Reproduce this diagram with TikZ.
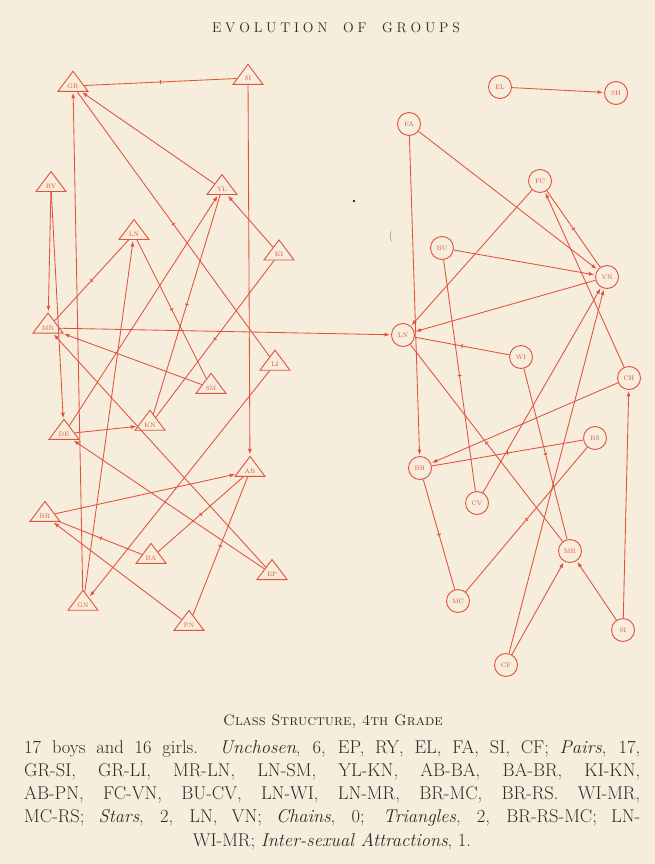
\documentclass[tikz,border=0pt]{standalone}
\usetikzlibrary{shapes.geometric,arrows.meta,decorations.markings}
\definecolor{ink}{RGB}{224,82,60}
\definecolor{paper}{RGB}{246,237,221}
\definecolor{txt}{RGB}{45,42,40}
\begin{document}
\begin{tikzpicture}[x=1pt,y=-1pt,
  boy/.style={shape=isosceles triangle, shape border rotate=90, isosceles triangle stretches,
    minimum width=30pt, minimum height=20pt, inner sep=0pt, draw=ink, line width=0.9pt,
    font=\fontsize{6.5}{6.5}\selectfont, text=ink},
  girl/.style={circle, draw=ink, line width=0.9pt, minimum size=23pt, inner sep=0pt,
    font=\fontsize{6.5}{6.5}\selectfont, text=ink},
  choice/.style={draw=ink, line width=0.85pt, -{Latex[length=5.5pt,width=4pt]}, shorten >=1pt},
  mutual/.style={draw=ink, line width=0.85pt, postaction={decorate},
    decoration={markings, mark=at position 0.5 with {\draw[ink,line width=1.1pt] (0pt,-1.8pt) -- (0pt,1.8pt);}}},
  para/.style={anchor=base west, font=\fontsize{18.5}{20}\selectfont, text=txt, inner sep=0pt},
]
\fill[paper] (0,0) rectangle (655,864);
\useasboundingbox (0,0) rectangle (655,864);

% title
\node[font=\fontsize{14}{14}\selectfont, text=txt, inner sep=0pt] (title) at (336,28)
  {\makebox[248pt][s]{E\hfill V\hfill O\hfill L\hfill U\hfill T\hfill I\hfill O\hfill N\hskip 0pt plus 4fill O\hfill F\hskip 0pt plus 4fill G\hfill R\hfill O\hfill U\hfill P\hfill S}};

% boys
\node[boy] (bGR) at (73,86) {GR};
\node[boy] (bSI) at (248,78) {SI};
\node[boy] (bRY) at (51,186) {RY};
\node[boy] (bLN) at (134,234) {LN};
\node[boy] (bYL) at (222,189) {YL};
\node[boy] (bKI) at (279,254) {KI};
\node[boy] (bMR) at (48,328) {MR};
\node[boy] (bLI) at (275,364) {LI};
\node[boy] (bSM) at (211,388) {SM};
\node[boy] (bKN) at (150,425) {KN};
\node[boy] (bDE) at (64,434) {DE};
\node[boy] (bAB) at (250,471) {AB};
\node[boy] (bBR) at (45,516) {BR};
\node[boy] (bBA) at (151,558) {BA};
\node[boy] (bEP) at (272,574) {EP};
\node[boy] (bGN) at (83,605) {GN};
\node[boy] (bPN) at (189,625) {PN};

% girls
\node[girl] (gEL) at (500,87) {EL};
\node[girl] (gSH) at (616,93) {SH};
\node[girl] (gFA) at (409,124) {FA};
\node[girl] (gFC) at (540,181) {FC};
\node[girl] (gBU) at (442,248) {BU};
\node[girl] (gVN) at (607,277) {VN};
\node[girl] (gLN) at (403,335) {LN};
\node[girl] (gWI) at (521,357) {WI};
\node[girl] (gCH) at (629,378) {CH};
\node[girl] (gRS) at (595,438) {RS};
\node[girl] (gBR) at (420,468) {BR};
\node[girl] (gCV) at (477,503) {CV};
\node[girl] (gMR) at (570,551) {MR};
\node[girl] (gMC) at (458,601) {MC};
\node[girl] (gSI) at (623,630) {SI};
\node[girl] (gCF) at (506,665) {CF};

% boys: mutual choices
\draw[mutual] (bGR) -- (bSI);
\draw[mutual] (bGR) -- (bLI);
\draw[mutual] (bMR) -- (bLN);
\draw[mutual] (bLN) -- (bSM);
\draw[mutual] (bYL) -- (bKN);
\draw[mutual] (bAB) -- (bBA);
\draw[mutual] (bBA) -- (bBR);
\draw[mutual] (bKI) -- (bKN);
\draw[mutual] (bAB) -- (bPN);
% boys: one-way choices
\draw[choice] (bYL) -- (bGR);
\draw[choice] (bGN) -- (bGR);
\draw[choice] (bSI) -- (bAB);
\draw[choice] (bRY) -- (bMR);
\draw[choice] (bRY) -- (bDE);
\draw[choice] (bKI) -- (bYL);
\draw[choice] (bGN) -- (bLN);
\draw[choice] (bDE) -- (bYL);
\draw[choice] (bSM) -- (bMR);
\draw[choice] (bEP) -- (bMR);
\draw[choice] (bEP) -- (bDE);
\draw[choice] (bDE) -- (bKN);
\draw[choice] (bLI) -- (bGN);
\draw[choice] (bBR) -- (bAB);
\draw[choice] (bPN) -- (bBR);
\draw[choice] (bMR) -- (gLN);

% girls: mutual choices
\draw[mutual] (gFC) -- (gVN);
\draw[mutual] (gBU) -- (gCV);
\draw[mutual] (gLN) -- (gWI);
\draw[mutual] (gLN) -- (gMR);
\draw[mutual] (gBR) -- (gMC);
\draw[mutual] (gBR) -- (gRS);
\draw[mutual] (gWI) -- (gMR);
\draw[mutual] (gMC) -- (gRS);
% girls: one-way choices
\draw[choice] (gEL) -- (gSH);
\draw[choice] (gFA) -- (gBR);
\draw[choice] (gFA) -- (gVN);
\draw[choice] (gBU) -- (gVN);
\draw[choice] (gCH) -- (gFC);
\draw[choice] (gVN) -- (gLN);
\draw[choice] (gFC) -- (gLN);
\draw[choice] (gCV) -- (gVN);
\draw[choice] (gCF) -- (gVN);
\draw[choice] (gCF) -- (gMR);
\draw[choice] (gSI) -- (gMR);
\draw[choice] (gSI) -- (gCH);
\draw[choice] (gCH) -- (gBR);

% stray marks of the print
\fill[txt] (354,201) circle (1.3pt);
\node[text=gray, font=\fontsize{11}{11}\selectfont, inner sep=0pt] (paren) at (391,237) {(};

% caption
\node[font=\fontsize{15}{15}\selectfont, text=txt, inner sep=0pt] (cap) at (333,722)
  {\textsc{Class Structure, 4th Grade}};
\node[para] (l1) at (24,753) {\makebox[616pt][s]{17 boys and 16 girls.\ \ \textit{Unchosen}, 6, EP, RY, EL, FA, SI, CF; \textit{Pairs}, 17,}};
\node[para] (l2) at (24,776.3) {\makebox[616pt][s]{GR-SI, GR-LI, MR-LN, LN-SM, YL-KN, AB-BA, BA-BR, KI-KN,}};
\node[para] (l3) at (24,799.6) {\makebox[616pt][s]{AB-PN, FC-VN, BU-CV, LN-WI, LN-MR, BR-MC, BR-RS. WI-MR,}};
\node[para] (l4) at (24,822.9) {\makebox[616pt][s]{MC-RS; \textit{Stars}, 2, LN, VN; \textit{Chains}, 0; \textit{Triangles}, 2, BR-RS-MC; LN-}};
\node[para, anchor=base] (l5) at (332,846.2) {WI-MR; \textit{Inter-sexual Attractions}, 1.};
\end{tikzpicture}
\end{document}
